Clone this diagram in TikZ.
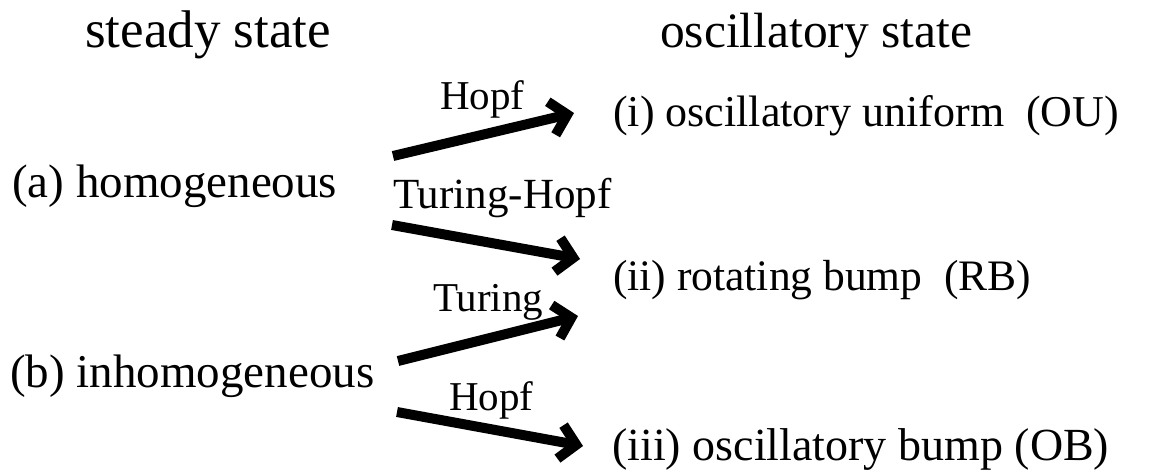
\documentclass[tikz,border=0pt]{standalone}
\usepackage{fontspec}
\setmainfont{Liberation Serif}
\usetikzlibrary{arrows.meta}
\begin{document}
\begin{tikzpicture}[x=1pt,y=-1pt,
  txt/.style={anchor=base west,inner sep=0pt},
  title/.style={txt,font=\fontsize{53}{60}\selectfont},
  otitle/.style={txt,font=\fontsize{49.5}{60}\selectfont},
  state/.style={txt,font=\fontsize{47}{56}\selectfont},
  ostate/.style={txt,font=\fontsize{44}{54}\selectfont},
  lab/.style={txt,font=\fontsize{41}{48}\selectfont},
  bif/.style={line width=10pt,-{Straight Barb[length=16pt,width=34pt,line width=10pt]}}]
\useasboundingbox (0,0) rectangle (1172,472);
\node[title] (ts) at (85,47) {steady state};
\node[otitle] (to) at (660,47) {oscillatory state};
\node[state] (a) at (12,197) {(a) homogeneous};
\node[state] (b) at (10,387) {(b) inhomogeneous};
\node[ostate] (ou) at (613,126) {(i) oscillatory uniform\ \ (OU)};
\node[ostate,font=\fontsize{43.5}{54}\selectfont] (rb) at (613,290) {(ii) rotating bump\ \ (RB)};
\node[ostate,font=\fontsize{46}{54}\selectfont] (ob) at (612,460) {(iii) oscillatory bump (OB)};
\coordinate (a1) at (393,156);
\coordinate (e1) at (574,113);
\coordinate (a2) at (392,225);
\coordinate (e2) at (580,259);
\coordinate (b1) at (398,361);
\coordinate (e3) at (578,316);
\coordinate (b2) at (397,412);
\coordinate (e4) at (583,446);
\draw[bif] (a1) -- (e1);
\draw[bif] (a2) -- (e2);
\draw[bif] (b1) -- (e3);
\draw[bif] (b2) -- (e4);
\node[lab] (l1) at (440,109) {Hopf};
\node[lab,font=\fontsize{43}{48}\selectfont] (l2) at (393,208) {Turing-Hopf};
\node[lab] (l3) at (433,311) {Turing};
\node[lab] (l4) at (449,410) {Hopf};
\end{tikzpicture}
\end{document}
